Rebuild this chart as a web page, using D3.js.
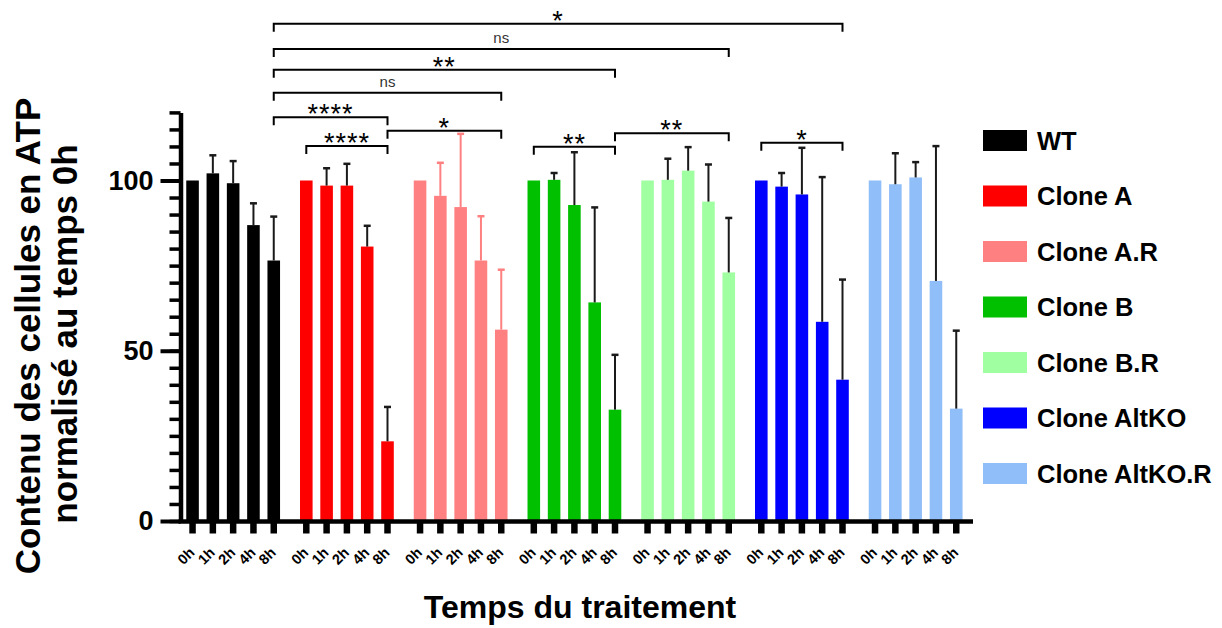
<!DOCTYPE html>
<html>
<head>
<meta charset="utf-8">
<script src="https://cdn.jsdelivr.net/npm/d3@7"></script>
<style>
  html, body { margin: 0; padding: 0; background: #ffffff; }
  svg { display: block; }
  text { font-family: "Liberation Sans", Arial, sans-serif; }
</style>
</head>
<body>
<script>
// ---------------- DATA ----------------
const groups = ["WT", "Clone A", "Clone A.R", "Clone B", "Clone B.R", "Clone AltKO", "Clone AltKO.R"];
const times = ["0h", "1h", "2h", "4h", "8h"];
const groupColors = ["#000000", "#ff0000", "#ff8080", "#00c000", "#a0ffa0", "#0000ff", "#90bef8"];
const errorColors = ["#1a1a1a", "#1a1a1a", "#ff8080", "#1a1a1a", "#1a1a1a", "#1a1a1a", "#1a1a1a"];

const meanWT      = [100, 102.1, 99.2, 86.9, 76.5];
const sdWT        = [null, 5.3, 6.5, 6.4, 12.9];
const meanA       = [100, 98.5, 98.5, 80.6, 23.4];
const sdA         = [null, 5.1, 6.4, 6.1, 10.1];
const meanAR      = [100, 95.5, 92.2, 76.5, 56.2];
const sdAR        = [null, 9.7, 21.5, 13.0, 17.6];
const meanB       = [100, 100.2, 92.8, 64.2, 32.7];
const sdB         = [null, 2.0, 15.5, 27.9, 16.1];
const meanBR      = [100, 100.2, 102.9, 93.8, 73.0];
const sdBR        = [null, 6.2, 6.9, 10.9, 16.0];
const meanAltKO   = [100, 98.2, 95.9, 58.5, 41.5];
const sdAltKO     = [null, 4.0, 13.7, 42.5, 29.4];
const meanAltKOR  = [100, 98.9, 100.9, 70.5, 33.0];
const sdAltKOR    = [null, 9.1, 4.5, 39.6, 22.9];

const yTickValues = [0, 50, 100];

// significance comparisons: [group, time] -> [group, time], label
const comparisons = [
  { from: ["WT", "8h"], to: ["Clone AltKO", "8h"], label: "*" },
  { from: ["WT", "8h"], to: ["Clone B.R", "8h"], label: "ns" },
  { from: ["WT", "8h"], to: ["Clone B", "8h"], label: "**" },
  { from: ["WT", "8h"], to: ["Clone A.R", "8h"], label: "ns" },
  { from: ["WT", "8h"], to: ["Clone A", "8h"], label: "****" },
  { from: ["Clone A", "8h"], to: ["Clone A.R", "8h"], label: "*" },
  { from: ["Clone A", "0h"], to: ["Clone A", "8h"], label: "****" },
  { from: ["Clone B", "0h"], to: ["Clone B", "8h"], label: "**" },
  { from: ["Clone B", "8h"], to: ["Clone B.R", "8h"], label: "**" },
  { from: ["Clone AltKO", "0h"], to: ["Clone AltKO", "8h"], label: "*" }
];

const means = [meanWT, meanA, meanAR, meanB, meanBR, meanAltKO, meanAltKOR];
const sds = [sdWT, sdA, sdAR, sdB, sdBR, sdAltKO, sdAltKOR];

// ---------------- LAYOUT ----------------
const W = 1222, H = 628;
const svg = d3.select("body").append("svg").attr("width", W).attr("height", H);

const y = d3.scaleLinear().domain([0, 120]).range([521, 112.4]);
const xGroup = d3.scaleBand().domain(groups).range([182.4, 966.4]).paddingInner(0.1077).paddingOuter(0);
const xTime = d3.scaleBand().domain(times).range([0, xGroup.bandwidth()]).paddingInner(0.38).paddingOuter(0.19);
const cx = (g, t) => xGroup(g) + xTime(t) + xTime.bandwidth() / 2;

const rows = [];
groups.forEach((g, gi) => {
  times.forEach((t, ti) => {
    rows.push({ g, gi, t, mean: means[gi][ti], sd: sds[gi][ti] });
  });
});

// bars
svg.append("g").selectAll("rect").data(rows).join("rect")
  .attr("x", d => xGroup(d.g) + xTime(d.t))
  .attr("width", xTime.bandwidth())
  .attr("y", d => y(d.mean))
  .attr("height", d => y(0) - y(d.mean))
  .attr("fill", d => groupColors[d.gi]);

// error bars
const eb = svg.append("g").selectAll("g").data(rows.filter(d => d.sd != null)).join("g");
eb.append("line")
  .attr("x1", d => cx(d.g, d.t)).attr("x2", d => cx(d.g, d.t))
  .attr("y1", d => y(d.mean)).attr("y2", d => y(d.mean + d.sd))
  .attr("stroke", d => errorColors[d.gi]).attr("stroke-width", 2);
eb.append("line")
  .attr("x1", d => cx(d.g, d.t) - 3.5).attr("x2", d => cx(d.g, d.t) + 3.5)
  .attr("y1", d => y(d.mean + d.sd)).attr("y2", d => y(d.mean + d.sd))
  .attr("stroke", d => errorColors[d.gi]).attr("stroke-width", 2.5);

// y axis
const yAxisX = 180.5;
const yMinor = svg.append("g").attr("transform", `translate(${yAxisX},0)`)
  .call(d3.axisLeft(y).tickValues(d3.range(0, 121, 5)).tickSize(11).tickSizeOuter(0).tickFormat(""));
yMinor.select(".domain").remove();
yMinor.selectAll(".tick line").attr("stroke", "#000").attr("stroke-width", 3.5);

const yMajor = svg.append("g").attr("transform", `translate(${yAxisX},0)`)
  .call(d3.axisLeft(y).tickValues(yTickValues).tickSize(20).tickSizeOuter(0).tickPadding(7).tickFormat(d3.format("d")));
yMajor.select(".domain").attr("stroke", "#000").attr("stroke-width", 4.5);
yMajor.selectAll(".tick line").attr("stroke", "#000").attr("stroke-width", 4);
yMajor.selectAll(".tick text")
  .attr("font-size", 27).attr("font-weight", "bold").attr("fill", "#000")
  .attr("font-family", "'Liberation Sans', Arial, sans-serif");

// x axis
const xAxisY = 521.5;
groups.forEach(g => {
  const ax = svg.append("g").attr("transform", `translate(${xGroup(g)},${xAxisY})`)
    .call(d3.axisBottom(xTime).tickSize(12).tickSizeOuter(0));
  ax.select(".domain").remove();
  ax.selectAll(".tick line").attr("stroke", "#000").attr("stroke-width", 6.5);
  ax.selectAll(".tick text")
    .attr("x", 0).attr("y", 0).attr("dy", null)
    .attr("text-anchor", "end")
    .attr("transform", "translate(3,32) rotate(-45)")
    .attr("font-size", 14.5).attr("font-weight", "bold").attr("fill", "#000")
    .attr("font-family", "'Liberation Sans', Arial, sans-serif");
});
svg.append("line")
  .attr("x1", yAxisX - 2).attr("x2", 973)
  .attr("y1", xAxisY).attr("y2", xAxisY)
  .attr("stroke", "#000").attr("stroke-width", 4.5);

// significance brackets
const bracketLevels = [146.0, 138.6, 132.5, 125.8, 118.6, 114.6, 110.1, 109.9, 113.9, 111.1];
const br = svg.append("g").selectAll("g").data(comparisons).join("g");
br.append("path")
  .attr("d", (d, i) => {
    const x1 = cx(d.from[0], d.from[1]), x2 = cx(d.to[0], d.to[1]);
    const yy = y(bracketLevels[i]);
    return `M${x1},${yy + 8}V${yy}H${x2}V${yy + 8}`;
  })
  .attr("fill", "none").attr("stroke", "#000").attr("stroke-width", 2);
br.append("text")
  .attr("x", (d) => (cx(d.from[0], d.from[1]) + cx(d.to[0], d.to[1])) / 2)
  .attr("y", (d, i) => d.label === "ns" ? y(bracketLevels[i]) - 6 : y(bracketLevels[i]) + 6)
  .attr("text-anchor", "middle")
  .attr("font-size", d => d.label === "ns" ? 15 : 27)
  .attr("letter-spacing", d => d.label === "ns" ? 0 : 1)
  .attr("fill", d => d.label === "ns" ? "#333" : "#000")
  .text(d => d.label);

// legend
const legend = svg.append("g").selectAll("g").data(groups).join("g")
  .attr("transform", (d, i) => `translate(983,${130 + i * 55.5})`);
legend.append("rect").attr("width", 44).attr("height", 21)
  .attr("fill", (d, i) => groupColors[i]);
legend.append("text").attr("x", 54).attr("y", 19.5)
  .attr("font-size", 25.5).attr("font-weight", "bold").attr("fill", "#000")
  .text(d => d);

// axis titles
svg.append("text")
  .attr("transform", "translate(40,336) rotate(-90)")
  .attr("text-anchor", "middle").attr("font-size", 35).attr("font-weight", "bold")
  .text("Contenu des cellules en ATP");
svg.append("text")
  .attr("transform", "translate(77,334) rotate(-90)")
  .attr("text-anchor", "middle").attr("font-size", 35).attr("font-weight", "bold")
  .text("normalisé au temps 0h");
svg.append("text")
  .attr("x", 580).attr("y", 618)
  .attr("text-anchor", "middle").attr("font-size", 32).attr("font-weight", "bold")
  .text("Temps du traitement");
</script>
</body>
</html>
